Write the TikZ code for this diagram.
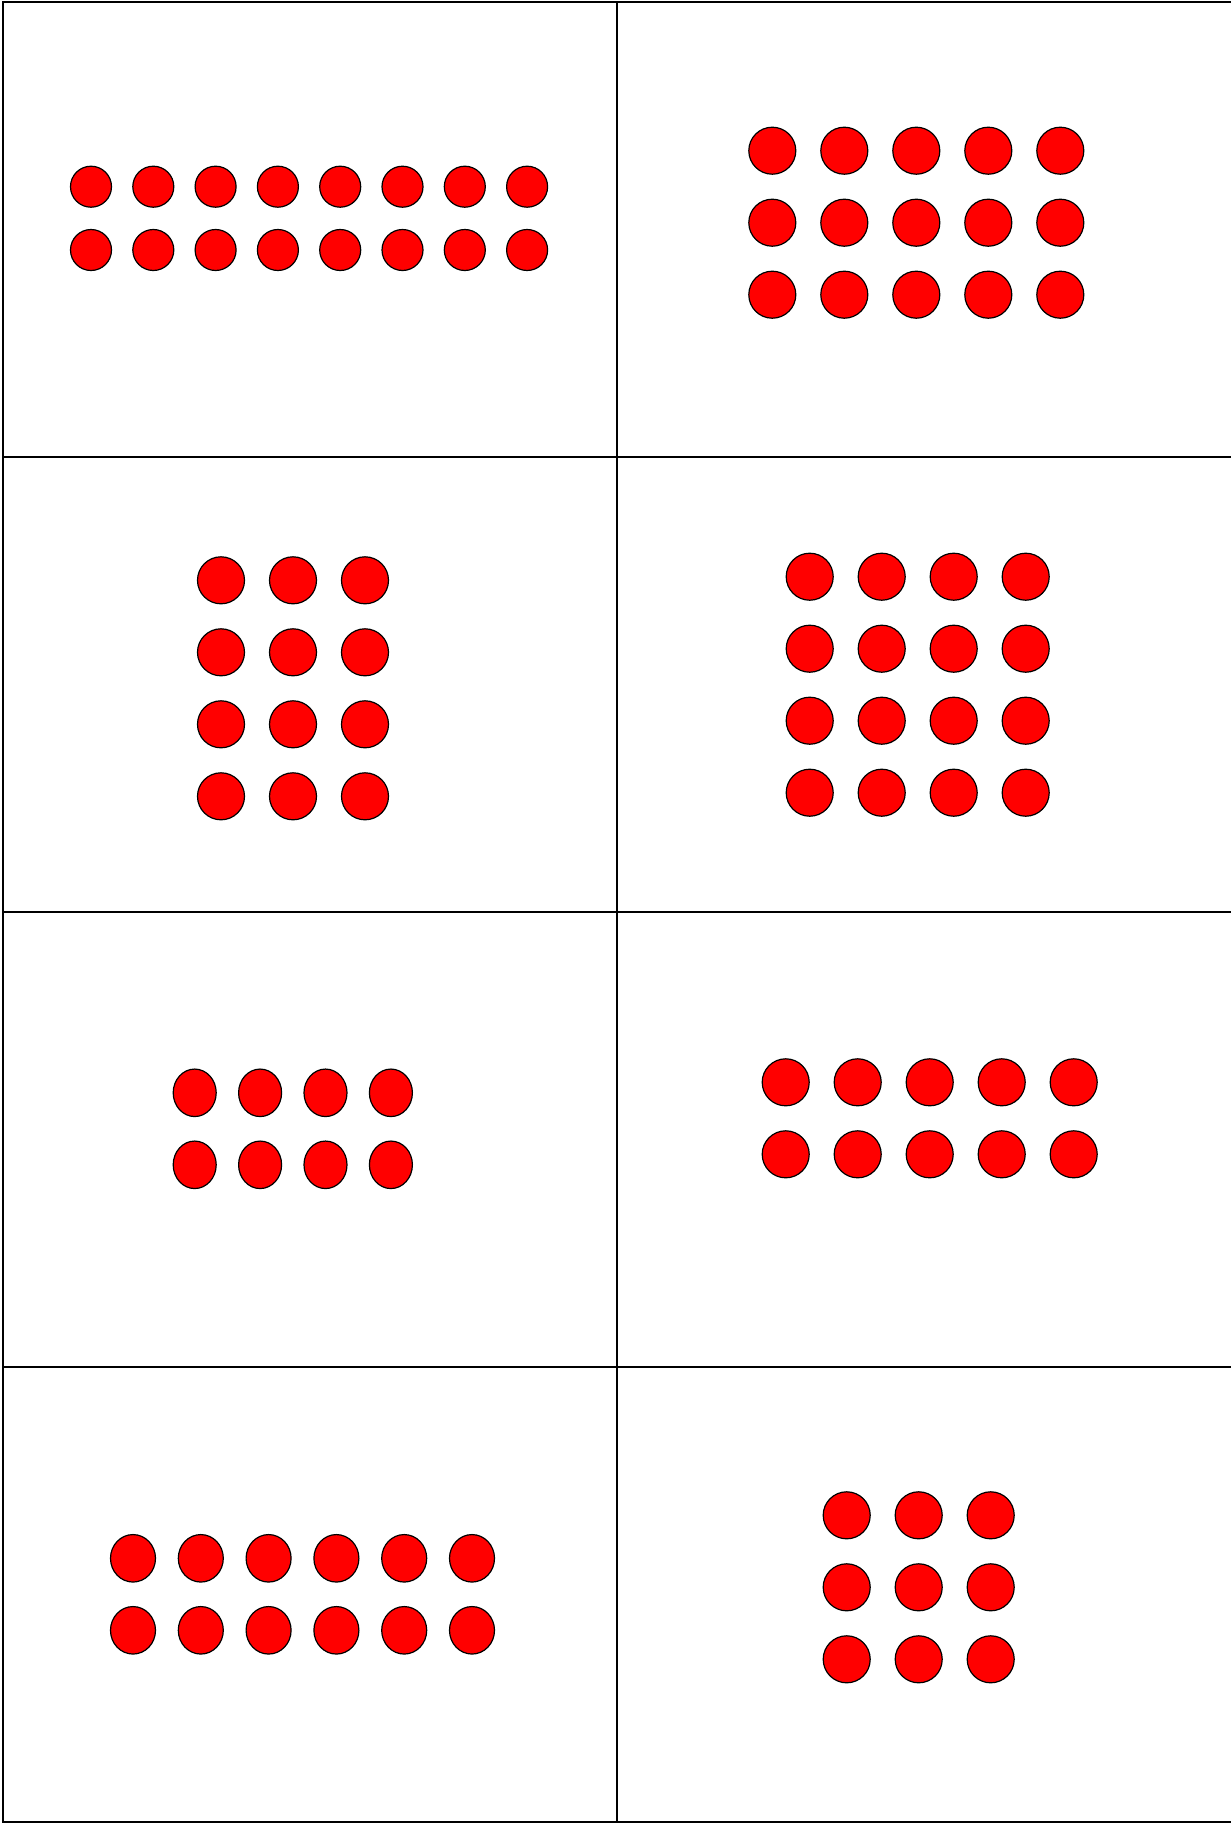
\documentclass[tikz,border=0pt]{standalone}
\usetikzlibrary{shapes.geometric}
\begin{document}
\begin{tikzpicture}[x=1pt,y=-1pt,
  gridline/.style={line width=2pt,draw=black,line cap=rect},
  dot/.style={circle,draw=black,fill=red,line width=1.2pt,inner sep=0pt,minimum size=#1},
  oval/.style 2 args={ellipse,draw=black,fill=red,line width=1.2pt,inner sep=0pt,minimum width=#1,minimum height=#2}]
\useasboundingbox (0,0) rectangle (1231,1823);
% grid
\coordinate (vl0) at (3,2);   \coordinate (vl1) at (3,1822);
\coordinate (vm0) at (617,2); \coordinate (vm1) at (617,1822);
\draw[gridline] (vl0) -- (vl1);
\draw[gridline] (vm0) -- (vm1);
\foreach \k/\yy in {0/2,1/457,2/912,3/1367,4/1822}{
  \coordinate (hA\k) at (3,\yy);
  \coordinate (hB\k) at (1231,\yy);
  \draw[gridline] (hA\k) -- (hB\k);
}
% panel 1: 8 x 2
\foreach \c in {0,...,7}{\foreach \r in {0,1}{
  \node[dot=41pt] (pa-\c-\r) at ({91+62.3*\c},{186.7+63.3*\r}) {};
}}
% panel 2: 5 x 3
\foreach \c in {0,...,4}{\foreach \r in {0,...,2}{
  \node[dot=47pt] (pb-\c-\r) at ({772.3+72*\c},{150.7+72*\r}) {};
}}
% panel 3: 3 x 4
\foreach \c in {0,...,2}{\foreach \r in {0,...,3}{
  \node[dot=47pt] (pc-\c-\r) at ({221+72*\c},{580.3+72*\r}) {};
}}
% panel 4: 4 x 4
\foreach \c in {0,...,3}{\foreach \r in {0,...,3}{
  \node[dot=47pt] (pd-\c-\r) at ({809.7+72*\c},{576.7+72*\r}) {};
}}
% panel 5: 4 x 2 ovals
\foreach \c in {0,...,3}{\foreach \r in {0,1}{
  \node[oval={43pt}{47.5pt}] (pe-\c-\r) at ({194.7+65.4*\c},{1092.8+72*\r}) {};
}}
% panel 6: 5 x 2
\foreach \c in {0,...,4}{\foreach \r in {0,1}{
  \node[dot=47pt] (pf-\c-\r) at ({785.7+72*\c},{1082.3+72*\r}) {};
}}
% panel 7: 6 x 2 ovals
\foreach \c in {0,...,5}{\foreach \r in {0,1}{
  \node[oval={45pt}{47.5pt}] (pg-\c-\r) at ({133+67.8*\c},{1558.3+72*\r}) {};
}}
% panel 8: 3 x 3
\foreach \c in {0,...,2}{\foreach \r in {0,...,2}{
  \node[dot=47pt] (ph-\c-\r) at ({846.7+72*\c},{1515.3+72*\r}) {};
}}
\end{tikzpicture}
\end{document}
